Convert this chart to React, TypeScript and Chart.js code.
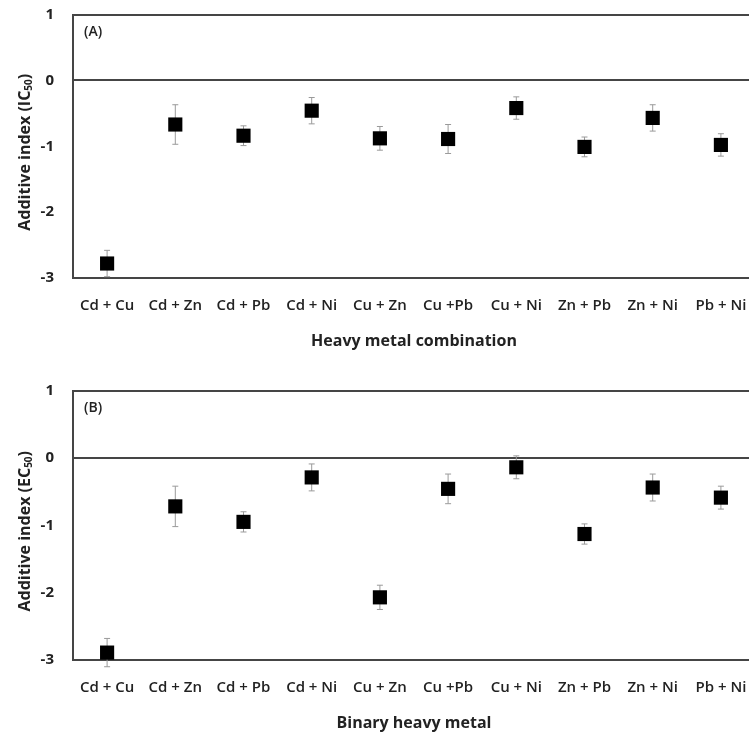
import React, { useEffect, useRef } from "react";
import { Chart, registerables } from "chart.js";

Chart.register(...registerables);

const categories = ["Cd + Cu", "Cd + Zn", "Cd + Pb", "Cd + Ni", "Cu + Zn", "Cu +Pb", "Cu + Ni", "Zn + Pb", "Zn + Ni", "Pb + Ni"];
const icValues = [-2.78, -0.67, -0.84, -0.46, -0.88, -0.89, -0.42, -1.01, -0.57, -0.98];
const icErrors = [0.2, 0.3, 0.15, 0.2, 0.18, 0.22, 0.17, 0.15, 0.2, 0.17];
const ecValues = [-2.89, -0.72, -0.95, -0.29, -2.07, -0.46, -0.14, -1.13, -0.44, -0.59];
const ecErrors = [0.21, 0.3, 0.15, 0.2, 0.18, 0.22, 0.17, 0.15, 0.2, 0.17];
const yMin = -3;
const yMax = 1;
const yStep = 1;

const FONT = "'Open Sans', 'Noto Sans', sans-serif";

function makeChart(
  canvas: HTMLCanvasElement,
  values: number[],
  errors: number[],
  panelLabel: string,
  yTitleMain: string,
  yTitleSub: string,
  xTitle: string
) {
  const errorPlugin = {
    id: "errorBars" + panelLabel,
    beforeDatasetsDraw(chart: any) {
      const ctx = chart.ctx;
      const xs = chart.scales.x;
      const ys = chart.scales.y;
      ctx.save();
      ctx.strokeStyle = "#9a9a9a";
      ctx.lineWidth = 1;
      values.forEach((v, i) => {
        const x = xs.getPixelForValue(i);
        const yTop = ys.getPixelForValue(v + errors[i]);
        const yBot = ys.getPixelForValue(v - errors[i]);
        ctx.beginPath();
        ctx.moveTo(x, yTop);
        ctx.lineTo(x, yBot);
        ctx.moveTo(x - 3, yTop);
        ctx.lineTo(x + 3, yTop);
        ctx.moveTo(x - 3, yBot);
        ctx.lineTo(x + 3, yBot);
        ctx.stroke();
      });
      ctx.restore();
    },
    afterDraw(chart: any) {
      const ctx = chart.ctx;
      const area = chart.chartArea;
      ctx.save();
      ctx.fillStyle = "#222";
      ctx.font = `600 14px ${FONT}`;
      ctx.textAlign = "left";
      ctx.textBaseline = "middle";
      ctx.fillText(panelLabel, area.left + 11, area.top + 18);
      ctx.restore();

      // y axis title with subscript
      ctx.save();
      const mainFont = `bold 16px ${FONT}`;
      const subFont = `bold 10px ${FONT}`;
      ctx.font = mainFont;
      const w1 = ctx.measureText(yTitleMain).width;
      ctx.font = subFont;
      const w2 = ctx.measureText(yTitleSub).width;
      ctx.font = mainFont;
      const w3 = ctx.measureText(")").width;
      const total = w1 + w2 + w3;
      const cy = (area.top + area.bottom) / 2 + 6;
      ctx.translate(25, cy);
      ctx.rotate(-Math.PI / 2);
      ctx.fillStyle = "#222";
      ctx.textAlign = "left";
      ctx.textBaseline = "middle";
      let x = -total / 2;
      ctx.font = mainFont;
      ctx.fillText(yTitleMain, x, 0);
      x += w1;
      ctx.font = subFont;
      ctx.fillText(yTitleSub, x, 4);
      x += w2;
      ctx.font = mainFont;
      ctx.fillText(")", x, 0);
      ctx.restore();
    },
  };

  return new Chart(canvas, {
    type: "line",
    data: {
      labels: categories,
      datasets: [
        {
          data: values,
          showLine: false,
          pointStyle: "rect",
          pointRadius: 10,
          pointHoverRadius: 10,
          backgroundColor: "#000",
          borderColor: "#000",
          pointBorderWidth: 0,
          clip: false as any,
        },
      ],
    },
    options: {
      animation: false,
      responsive: false,
      events: [],
      layout: { padding: { top: 14.5, right: 15, bottom: 0, left: 0 } },
      plugins: { legend: { display: false }, tooltip: { enabled: false } },
      scales: {
        x: {
          type: "category",
          offset: true,
          grid: { display: false, drawTicks: false },
          border: { display: true, color: "#454545", width: 2 },
          ticks: {
            color: "#222",
            font: { family: FONT, size: 15, weight: "600" as any },
            padding: 19,
            maxRotation: 0,
            autoSkip: false,
          },
          title: {
            display: true,
            text: xTitle,
            color: "#222",
            font: { family: FONT, size: 16, weight: "bold" as any },
            padding: { top: 0, bottom: 9 },
          },
          afterFit(scale: any) {
            scale.height = 82;
            scale.paddingLeft = 0;
            scale.paddingRight = 0;
          },
        },
        y: {
          min: yMin,
          max: yMax,
          grid: {
            drawTicks: false,
            color: (ctx: any) => (ctx.tick && (ctx.tick.value === 0 || ctx.tick.value === yMax) ? "#454545" : "rgba(0,0,0,0)"),
            lineWidth: 2,
          },
          border: { display: true, color: "#454545", width: 2 },
          ticks: {
            stepSize: yStep,
            color: "#222",
            font: { family: FONT, size: 15, weight: "bold" as any },
            padding: 19,
          },
          title: { display: false },
          afterFit(scale: any) {
            scale.width = 73;
            scale.paddingTop = 0;
            scale.paddingBottom = 0;
          },
        },
      },
    },
    plugins: [errorPlugin],
  });
}

export default function App() {
  const refA = useRef<HTMLCanvasElement>(null);
  const refB = useRef<HTMLCanvasElement>(null);

  useEffect(() => {
    const a = makeChart(refA.current!, icValues, icErrors, "(A)", "Additive index (IC", "50", "Heavy metal combination");
    const b = makeChart(refB.current!, ecValues, ecErrors, "(B)", "Additive index (EC", "50", "Binary heavy metal");
    return () => {
      a.destroy();
      b.destroy();
    };
  }, []);

  return (
    <div style={{ position: "fixed", left: 0, top: 0, width: 749, height: 735, overflow: "hidden", background: "#fff" }}>
      <canvas ref={refA} width={770} height={360} style={{ position: "absolute", left: 0, top: 0, display: "block" }} />
      <canvas ref={refB} width={770} height={366} style={{ position: "absolute", left: 0, top: 376, display: "block" }} />
    </div>
  );
}
